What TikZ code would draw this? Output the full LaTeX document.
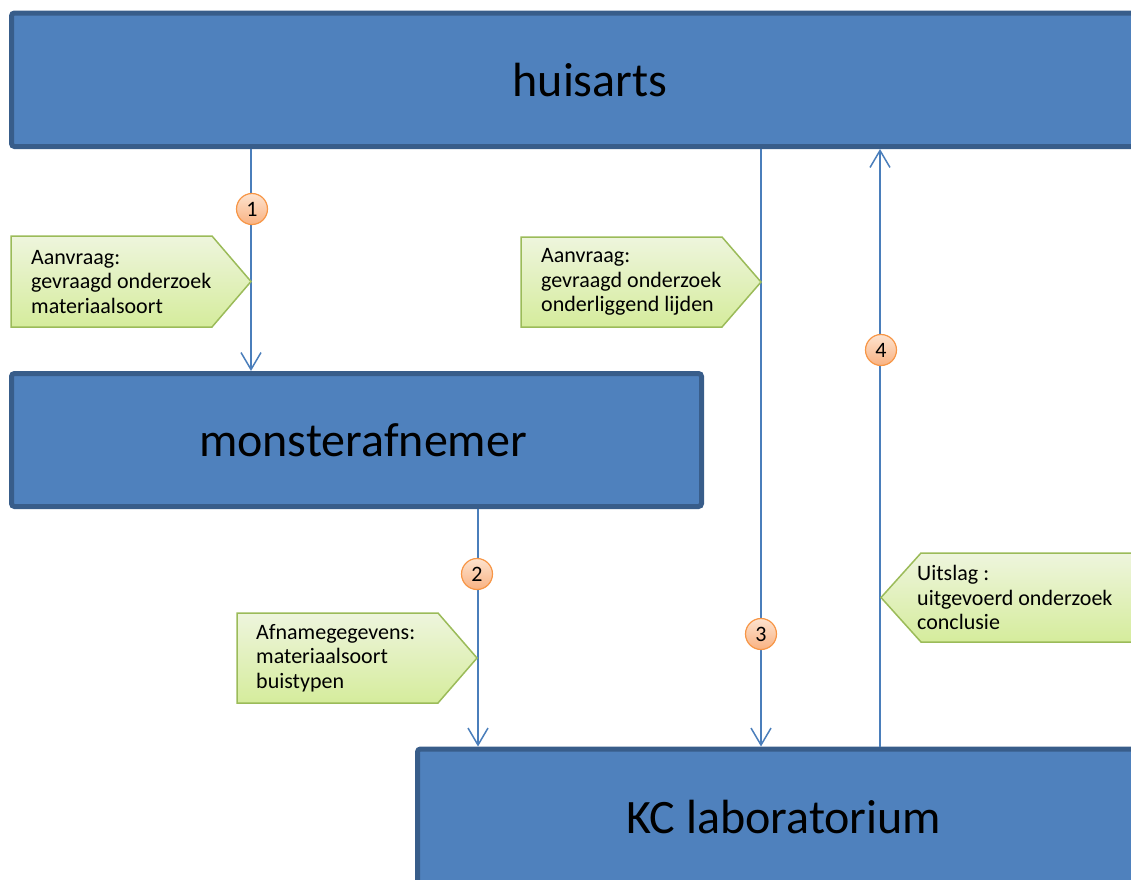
\documentclass[tikz,border=0pt]{standalone}
\usepackage{fontspec}
\setmainfont{Carlito}
\usetikzlibrary{arrows.meta}
\definecolor{boxfill}{HTML}{4F81BD}
\definecolor{boxline}{HTML}{385D8A}
\definecolor{arrowc}{HTML}{4A7EBB}
\definecolor{numline}{HTML}{F79646}
\definecolor{numtop}{HTML}{FDE3CF}
\definecolor{numbot}{HTML}{F9B282}
\definecolor{calline}{HTML}{9BBB59}
\definecolor{caltop}{HTML}{EEF5DD}
\definecolor{calbot}{HTML}{D5EC9C}
\begin{document}
\begin{tikzpicture}[x=1pt,y=-1pt,
 actor/.style={draw=boxline, fill=boxfill, line width=5pt, rounded corners=3pt, font=\fontsize{48}{52}\selectfont, inner sep=0pt},
 flow/.style={draw=arrowc, line width=1.5pt, -{Straight Barb[length=17pt,width=20pt]}},
 num/.style={circle, draw=numline, line width=1.2pt, top color=numtop, bottom color=numbot, minimum size=31pt, inner sep=0pt, font=\fontsize{22}{22}\selectfont},
 callout/.style={draw=calline, line width=1.5pt, top color=caltop, bottom color=calbot},
 caltext/.style={anchor=west, align=left, font=\fontsize{22}{24.5}\selectfont, inner sep=0pt}
]
\useasboundingbox (0,0) rectangle (1131,879);

\node[actor, minimum width=1157pt, minimum height=133.5pt] (huisarts) at (590,79.75) {huisarts};
\node[actor, minimum width=690pt, minimum height=133pt] (monster) at (356.5,440) {\hspace*{13pt}monsterafnemer};
\node[actor, minimum width=733pt, minimum height=136pt] (lab) at (784,817) {KC laboratorium};

\coordinate (c1) at (251,0);
\coordinate (c2) at (478,0);
\coordinate (c3) at (761,0);
\coordinate (c4) at (880,0);

\draw[flow] (huisarts.south -| c1) -- (monster.north -| c1);
\draw[flow] (monster.south -| c2) -- (lab.north -| c2);
\draw[flow] (huisarts.south -| c3) -- (lab.north -| c3);
\draw[flow] (lab.north -| c4) -- (huisarts.south -| c4);

\path[callout] (11,236) -- (212,236) -- (251,281.5) -- (212,327) -- (11,327) -- cycle;
\node[caltext] (t1) at (31,282) {Aanvraag:\\gevraagd onderzoek\\materiaalsoort};

\path[callout] (521,237) -- (722,237) -- (761,282) -- (722,327) -- (521,327) -- cycle;
\node[caltext] (t3) at (541,282) {Aanvraag:\\gevraagd onderzoek\\onderliggend lijden};

\path[callout] (237,613) -- (438,613) -- (477,658) -- (438,703) -- (237,703) -- cycle;
\node[caltext] (t2) at (256,658) {Afnamegegevens:\\materiaalsoort\\buistypen};

\path[callout] (1140,553) -- (921,553) -- (881,597.5) -- (921,642) -- (1140,642) -- cycle;
\node[caltext] (t4) at (917,597.5) {Uitslag :\\uitgevoerd onderzoek\\conclusie};

\node[num] (n1) at (252,209) {1};
\node[num] (n2) at (477,574) {2};
\node[num] (n3) at (761,634) {3};
\node[num] (n4) at (881,350) {4};
\end{tikzpicture}
\end{document}
